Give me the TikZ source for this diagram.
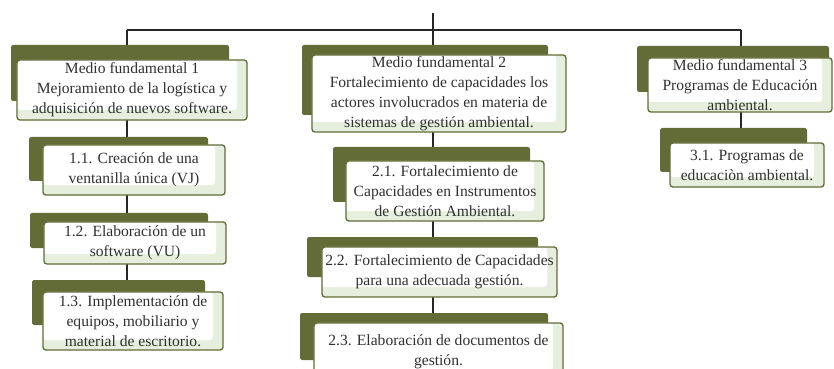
\documentclass[tikz,border=0pt]{standalone}
\usepackage{fontspec}
\setmainfont{Liberation Serif}
\usetikzlibrary{backgrounds}
\definecolor{olivedark}{HTML}{636B36}
\definecolor{olivelight}{HTML}{E6EFDD}
\definecolor{textgray}{HTML}{303030}

\begin{document}
\begin{tikzpicture}[x=0.03cm, y=-0.03cm,
    back/.style={fill=olivedark, rounded corners=2pt},
    front/.style={draw=olivedark, line width=1.1pt, fill=olivelight,
      rounded corners=2.5pt, inner sep=0pt, align=center, text=textgray,
      font=\fontsize{13.3}{17}\selectfont,
      execute at begin node={\rule{0pt}{15pt}},
      path picture={\fill[white] (path picture bounding box.north west)
        rectangle ([xshift=-0.3cm,yshift=0.3cm]path picture bounding box.south east);}},
    link/.style={draw=black!85, line width=1.1pt}]
  \useasboundingbox (0,0) rectangle (834,369);

  % Bus
  \coordinate (root) at (433,13);
  \coordinate (col1) at (127,30);
  \coordinate (col2) at (433,30);
  \coordinate (col3) at (741,30);

  % Medio fundamental 1
  \fill[back] (11,45) rectangle (229,101);
  \node[front, minimum width=6.90cm, minimum height=1.80cm] (mf1) at (132,90)
    {Medio fundamental 1\\Mejoramiento de la logística y\\adquisición de nuevos software.};
  \fill[back] (29,137) rectangle (208,181);
  \node[front, minimum width=5.46cm, minimum height=1.50cm] (c11) at (134,170)
    {1.1. Creación de una\\ventanilla única (VJ)};
  \fill[back] (30,213) rectangle (208,248);
  \node[front, minimum width=5.46cm, minimum height=1.26cm] (c12) at (135,243)
    {1.2. Elaboración de un\\software (VU)};
  \fill[back] (32,280) rectangle (205,325);
  \node[front, minimum width=5.40cm, minimum height=1.74cm] (c13) at (133,321)
    {1.3. Implementación de\\equipos, mobiliario y\\material de escritorio.};

  % Medio fundamental 2
  \fill[back] (302,45) rectangle (548,115);
  \node[front, minimum width=7.62cm, minimum height=2.31cm] (mf2) at (439,93.5)
    {Medio fundamental 2\\Fortalecimiento de capacidades los\\actores involucrados en materia de\\sistemas de gestión ambiental.};
  \fill[back] (333,147) rectangle (530,202);
  \node[front, minimum width=5.94cm, minimum height=1.80cm] (c21) at (445,191)
    {2.1. Fortalecimiento de\\Capacidades en Instrumentos\\de Gestión Ambiental.};
  \fill[back] (307,237) rectangle (538,277);
  \node[front, minimum width=7.05cm, minimum height=1.50cm] (c22) at (439.5,272)
    {2.2. Fortalecimiento de Capacidades\\para una adecuada gestión.};
  \fill[back] (300,313) rectangle (548,360);
  \node[front, minimum width=7.47cm, minimum height=1.71cm] (c23) at (438.5,351.5)
    {2.3. Elaboración de documentos de\\gestión.};

  % Medio fundamental 3
  \fill[back] (637,46) rectangle (829,92);
  \node[front, minimum width=5.52cm, minimum height=1.62cm] (mf3) at (740,85)
    {Medio fundamental 3\\Programas de Educación\\ambiental.};
  \fill[back] (660,128) rectangle (807,172);
  \node[front, minimum width=4.62cm, minimum height=1.32cm] (c31) at (747,165)
    {3.1. Programas de\\educaciòn ambiental.};

  % Connectors
  \begin{scope}[on background layer]
    \draw[link] (root) -- (col2);
    \draw[link] (col1) -- (col3);
    \draw[link] (col1) -- (col1 |- c13.north);
    \draw[link] (col2) -- (col2 |- c23.north);
    \draw[link] (col3) -- (col3 |- c31.north);
  \end{scope}
\end{tikzpicture}
\end{document}
